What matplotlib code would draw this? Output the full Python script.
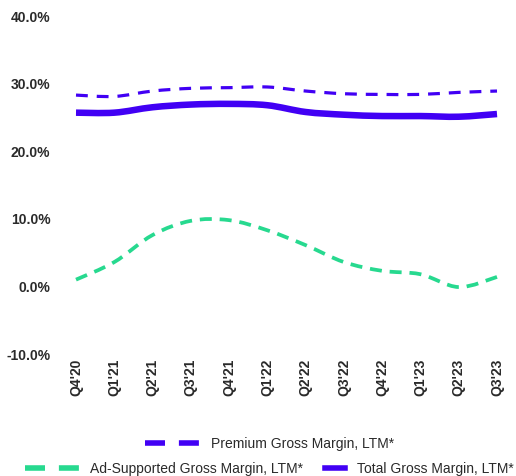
import matplotlib
matplotlib.use("Agg")
import matplotlib.pyplot as plt
import numpy as np
from matplotlib.path import Path
from matplotlib.patches import PathPatch
from matplotlib.lines import Line2D

quarters = ["Q4'20", "Q1'21", "Q2'21", "Q3'21", "Q4'21", "Q1'22",
            "Q2'22", "Q3'22", "Q4'22", "Q1'23", "Q2'23", "Q3'23"]
premium = [28.3, 28.1, 28.9, 29.3, 29.4, 29.5, 28.9, 28.5, 28.4, 28.4, 28.7, 28.9]
ad_supported = [1.0, 3.6, 7.6, 9.7, 9.8, 8.3, 6.1, 3.6, 2.3, 1.8, -0.1, 1.4]
total = [25.7, 25.7, 26.5, 26.9, 27.0, 26.8, 25.8, 25.4, 25.2, 25.2, 25.1, 25.5]

PURPLE = "#4100f4"
GREEN = "#27d98f"
TEXT = "#2a2a2a"

plt.rcParams['font.family'] = ['Liberation Sans', 'DejaVu Sans']


def smooth_path(xs, ys):
    # catmull-rom curve turned into cubic bezier segments
    pts = np.column_stack([xs, ys]).astype(float)
    ext = np.vstack([pts[0], pts, pts[-1]])
    verts = [pts[0]]
    codes = [Path.MOVETO]
    for i in range(len(pts) - 1):
        p0, p1, p2, p3 = ext[i], ext[i + 1], ext[i + 2], ext[i + 3]
        c1 = p1 + (p2 - p0) / 6.0
        c2 = p2 - (p3 - p1) / 6.0
        verts += [c1, c2, p2]
        codes += [Path.CURVE4] * 3
    return Path(verts, codes)


fig = plt.figure(figsize=(5.16, 4.76), dpi=100)
ax = fig.add_axes([76 / 516, 1 - 354 / 476, (497 - 76) / 516, (354 - 16) / 476])

x = np.arange(len(quarters))
ax.add_patch(PathPatch(smooth_path(x, total), fill=False, edgecolor=PURPLE,
                       lw=4.7, capstyle='butt', clip_on=False))
ax.add_patch(PathPatch(smooth_path(x, premium), fill=False, edgecolor=PURPLE,
                       lw=2.3, linestyle=(0, (3.7, 2.8)), capstyle='butt', clip_on=False))
ax.add_patch(PathPatch(smooth_path(x, ad_supported), fill=False, edgecolor=GREEN,
                       lw=2.7, linestyle=(0, (3.2, 2.1)), capstyle='butt', clip_on=False))

ax.set_xlim(0, len(quarters) - 1)
ax.set_ylim(-10, 40)
ax.set_yticks([-10, 0, 10, 20, 30, 40])
ax.set_yticklabels([f"{v:.1f}%" for v in [-10, 0, 10, 20, 30, 40]])
ax.set_xticks(x)
ax.set_xticklabels(quarters, rotation=90)
ax.tick_params(axis='y', length=0, pad=18.5, labelsize=10, labelcolor=TEXT)
ax.tick_params(axis='x', length=0, pad=3.5, labelsize=10, labelcolor=TEXT)
for lab in ax.get_yticklabels() + ax.get_xticklabels():
    lab.set_fontweight('bold')
for s in ax.spines.values():
    s.set_visible(False)

# legend, laid out in two centred rows
h_prem = Line2D([], [], color=PURPLE, lw=4, linestyle=(0, (3.6, 2.5)))
h_ad = Line2D([], [], color=GREEN, lw=4, linestyle=(0, (3.6, 2.5)))
h_tot = Line2D([], [], color=PURPLE, lw=4)

leg_kw = dict(loc='center', frameon=False, fontsize=10, borderpad=0,
              handletextpad=0.85, labelcolor=TEXT)
fig.legend(handles=[h_prem], labels=["Premium Gross Margin, LTM*"],
           bbox_to_anchor=(270 / 516, 1 - 444 / 476), handlelength=3.9, **leg_kw)
fig.legend(handles=[h_ad], labels=["Ad-Supported Gross Margin, LTM*"],
           bbox_to_anchor=(164 / 516, 1 - 469 / 476), handlelength=3.9, **leg_kw)
fig.legend(handles=[h_tot], labels=["Total Gross Margin, LTM*"],
           bbox_to_anchor=(419 / 516, 1 - 469 / 476), handlelength=1.45, **leg_kw)

fig.savefig("out.png", dpi=100, facecolor='white')
